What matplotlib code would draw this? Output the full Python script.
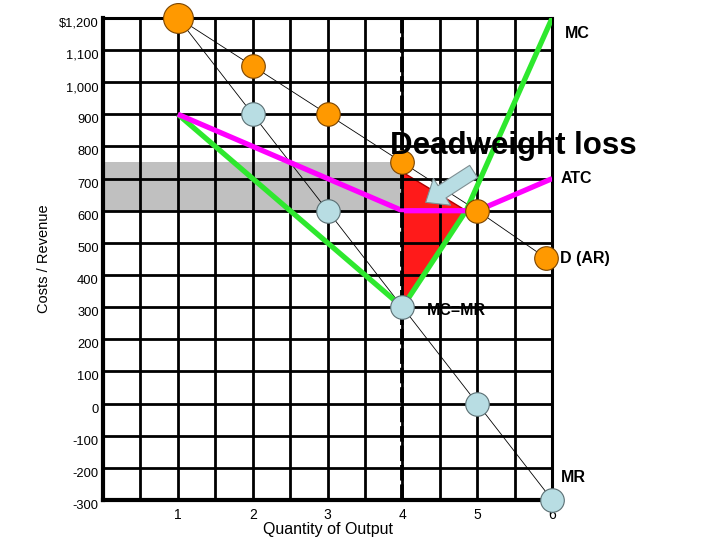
import matplotlib
matplotlib.use('Agg')
import matplotlib.pyplot as plt

plt.rcParams['font.family'] = ['Liberation Sans', 'DejaVu Sans']

# demand / average revenue (thin line, orange dots)
q_d = [1, 2, 3, 4, 5, 5.92]
ar = [1200, 1050, 900, 750, 600, 452]

# marginal revenue (thin line, light blue dots)
q_mr = [1, 2, 3, 4, 5, 6]
mr = [1200, 900, 600, 300, 0, -300]

# marginal cost (green)
q_mc = [1, 4, 4.85, 6]
mc = [900, 300, 600, 1200]

# average total cost (magenta)
q_atc = [1, 4, 5, 6]
atc = [900, 600, 600, 700]

# shaded profit box and deadweight loss triangle
profit_q = [0, 4]
profit_lo = [600, 600]
profit_hi = [750, 750]
dwl_q = [4, 4.85, 4]
dwl_y = [720, 600, 300]

y_ticks = [1200, 1100, 1000, 900, 800, 700, 600, 500, 400, 300, 200, 100, 0, -100, -200, -300]
y_labels = ['$1,200', '1,100', '1,000', '900', '800', '700', '600', '500', '400', '300',
            '200', '100', '0', '-100', '-200', '-300']
x_ticks = [1, 2, 3, 4, 5, 6]

fig = plt.figure(figsize=(7.2, 5.4), dpi=100)
ax = fig.add_axes([0.143, 0.074, 0.624, 0.893])
ax.set_xlim(0, 6)
ax.set_ylim(-300, 1200)

# grid
ax.set_xticks(x_ticks)
ax.set_xticks([i * 0.5 for i in range(1, 12)], minor=True)
ax.set_yticks(y_ticks)
ax.set_yticklabels(y_labels)
ax.grid(which='both', color='black', linewidth=2.0, zorder=2)
ax.set_axisbelow(False)
ax.tick_params(which='both', length=0, colors='black')
ax.tick_params(axis='y', pad=3, labelsize=9.3)
ax.tick_params(axis='x', pad=6, labelsize=10)
for lab in ax.get_yticklabels():
    lab.set_va('top')
for s in ['left', 'bottom']:
    ax.spines[s].set_linewidth(3.0)
for s in ['top', 'right']:
    ax.spines[s].set_linewidth(2.2)

ax.fill_between(profit_q, profit_lo, profit_hi, color='#c0c0c0', lw=0, zorder=1)
ax.fill(dwl_q, dwl_y, facecolor='#ff1a1a', edgecolor='#b00000', lw=1, zorder=1.5)

# thin demand and MR lines
ax.plot(q_d, ar, color='black', lw=0.6, zorder=4)
ax.plot(q_mr, mr, color='black', lw=0.6, zorder=4)

ax.plot(q_mc, mc, color='#2ee82e', lw=3.8, zorder=5, solid_capstyle='butt')
ax.plot(q_atc, atc, color='#ff00ff', lw=3.8, zorder=5, solid_capstyle='butt')

# dashed output line
ax.axvline(4, color='black', lw=2.8, ls=(0, (4, 1)), zorder=6)

# dots
ax.plot(q_mr[1:], mr[1:], 'o', ms=17, mfc='#b8dde3', mec='#5a6e72', mew=0.8, zorder=7, clip_on=False)
ax.plot(q_d[1:], ar[1:], 'o', ms=17, mfc='#ff9900', mec='#7a4400', mew=0.8, zorder=7, clip_on=False)
ax.plot(q_d[:1], ar[:1], 'o', ms=21.5, mfc='#ff9900', mec='#7a4400', mew=0.8, zorder=7, clip_on=False)

# arrow to the triangle
ax.annotate('', xy=(4.31, 626), xytext=(4.95, 722),
            arrowprops=dict(arrowstyle='simple,head_width=23,head_length=14,tail_width=10.5',
                            mutation_scale=1, fc='#b8dde3', ec='#7f8f93', lw=0.8,
                            shrinkA=0, shrinkB=0), zorder=8)

ax.text(3.84, 802, 'Deadweight loss', fontsize=22.5, fontweight='bold', va='center', ha='left', zorder=9)
lab_kw = dict(fontsize=11.5, fontweight='bold', va='center', ha='left', clip_on=False)
ax.text(6.17, 1150, 'MC', **lab_kw)
ax.text(6.11, 700, 'ATC', **lab_kw)
ax.text(6.11, 452, 'D (AR)', **lab_kw)
ax.text(6.11, -229, 'MR', **lab_kw)
ax.text(4.33, 291, 'MC=MR', zorder=9, **lab_kw)

ax.set_xlabel('Quantity of Output', fontsize=11.5, labelpad=0)
ax.set_ylabel('Costs / Revenue', fontsize=10.5, labelpad=6)

fig.savefig('out.png', dpi=100)
